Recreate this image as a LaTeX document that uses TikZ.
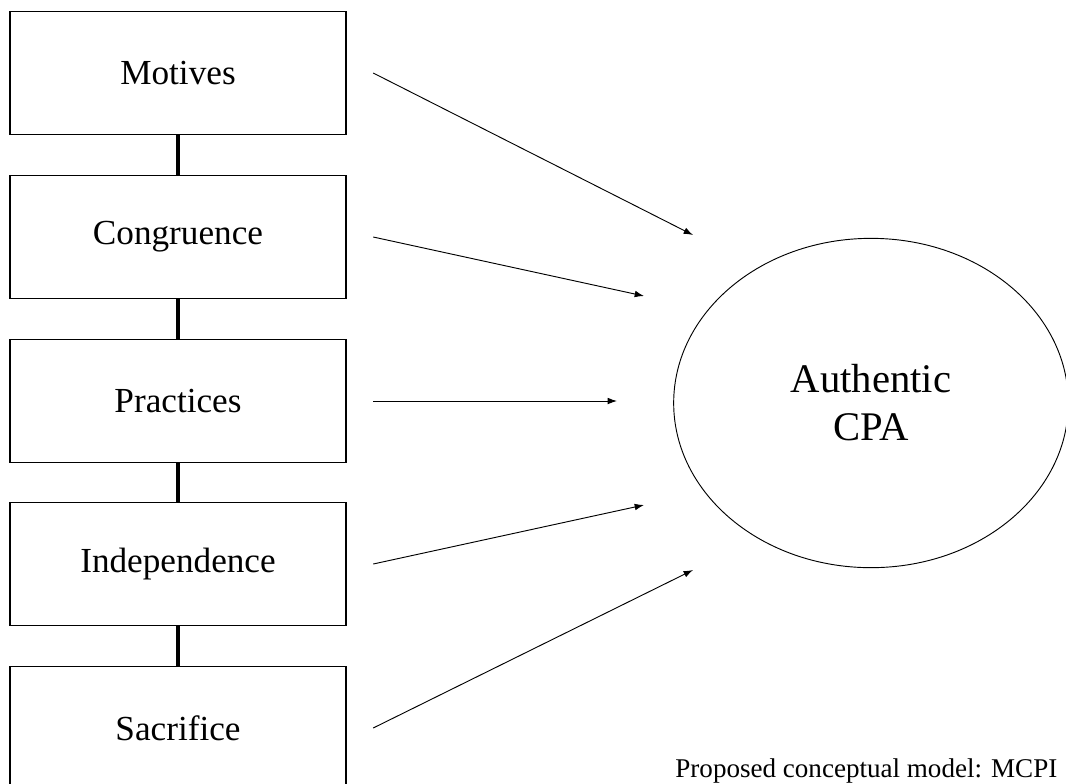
\documentclass[tikz,border=0pt]{standalone}
\usepackage{fontspec}
\setmainfont{Liberation Serif}
\usetikzlibrary{arrows.meta,shapes.geometric}

\begin{document}
\begin{tikzpicture}[x=0.75pt, y=-0.75pt,
    factor/.style={rectangle, draw, line width=0.8pt, minimum width=252pt, minimum height=92pt, text centered, font=\fontsize{26.4}{30}\selectfont},
    outcome/.style={ellipse, draw, line width=0.7pt, minimum width=296pt, minimum height=247pt, align=center, font=\fontsize{30.5}{36}\selectfont},
    rel/.style={-{Latex[length=7pt,width=5pt]}, line width=0.7pt},
    link/.style={line width=3.4pt}
]
    \useasboundingbox (0,0) rectangle (1066,783);

    % Nodes
    \node[factor] (mot) at (178,73) {Motives};
    \node[factor] (cong) at (178,237) {Congruence};
    \node[factor] (prac) at (178,401) {Practices};
    \node[factor] (indep) at (178,564) {Independence};
    \node[factor] (sacr) at (178,728) {Sacrifice};
    \node[outcome] (cpa) at (871,403) {Authentic\\CPA};
    \node[anchor=base east, font=\fontsize{20.3}{24}\selectfont] (caption) at (1062,777) {Proposed conceptual model: MCPI};

    % arrow tips
    \coordinate (t1) at (693,235);
    \coordinate (t2) at (644,296);
    \coordinate (t3) at (617,401);
    \coordinate (t4) at (644,505);
    \coordinate (t5) at (693,570);

    % Relations
    \draw[link] (mot) -- (cong);
    \draw[link] (cong) -- (prac);
    \draw[link] (prac) -- (indep);
    \draw[link] (indep) -- (sacr);

    \draw[rel] ([xshift=20pt]mot.east) -- (t1);
    \draw[rel] ([xshift=20pt]cong.east) -- (t2);
    \draw[rel] ([xshift=20pt]prac.east) -- (t3);
    \draw[rel] ([xshift=20pt]indep.east) -- (t4);
    \draw[rel] ([xshift=20pt]sacr.east) -- (t5);
\end{tikzpicture}
\end{document}
